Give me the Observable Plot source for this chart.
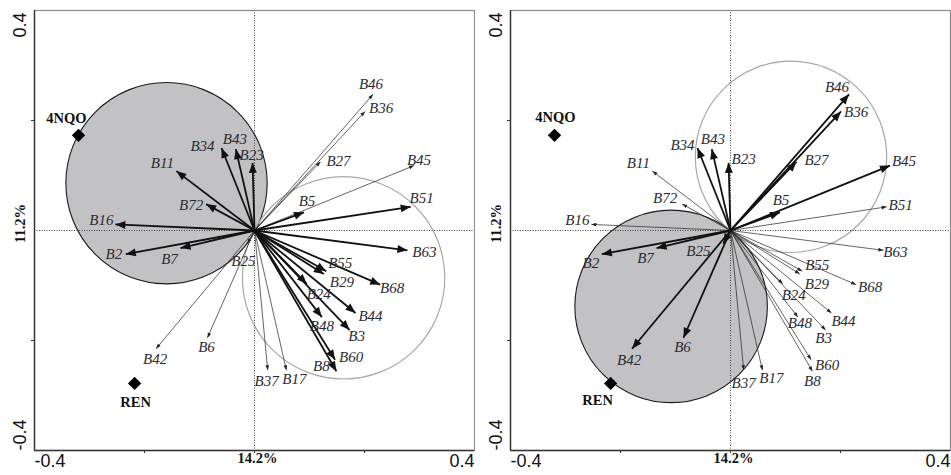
<!DOCTYPE html>
<html>
<head>
<meta charset="utf-8">
<script src="https://cdn.jsdelivr.net/npm/d3@7"></script>
<script src="https://cdn.jsdelivr.net/npm/@observablehq/plot@0.6"></script>
<style>
  html, body { margin: 0; padding: 0; background: #fff; }
  #wrap { display: flex; flex-direction: row; width: 951px; height: 475px; position: relative; }
</style>
</head>
<body>
<div id="wrap"></div>
<script>
// ---------- data ----------
const species = ["B46","B36","B27","B45","B51","B5","B23","B43","B34","B11","B72","B16",
                 "B2","B7","B25","B42","B6","B37","B17","B8","B60","B3","B48","B44","B24","B29","B55","B68","B63"];
const axis1 = [0.2155, 0.201, 0.120, 0.290, 0.284, 0.090, -0.0035, -0.034, -0.060, -0.142, -0.088, -0.253,
               -0.234, -0.1345, -0.013, -0.179, -0.0855, 0.024, 0.058, 0.149, 0.1465, 0.173, 0.1225, 0.1836, 0.095, 0.126, 0.1305, 0.2285, 0.278];
const axis2 = [0.2476, 0.2165, 0.125, 0.118, 0.043, 0.033, 0.123, 0.148, 0.150, 0.108, 0.048, 0.011,
               -0.043, -0.032, -0.024, -0.215, -0.195, -0.254, -0.254, -0.256, -0.235, -0.181, -0.1575, -0.150, -0.097, -0.079, -0.074, -0.0985, -0.036];

const samples = ["4NQO", "REN"];
const sampleX = [-0.320, -0.218];
const sampleY = [0.173, -0.278];

// emphasised (bold) vectors in each panel
const boldLeft  = ["B11","B34","B43","B23","B72","B16","B2","B7","B5","B51","B63","B55","B29","B24","B68","B44","B48","B3","B60","B8"];
const boldRight = ["B46","B36","B27","B45","B5","B23","B43","B34","B2","B7","B42","B6","B25"];

// circles: [filled, open]
const circleXLeft  = [-0.160, 0.162];
const circleYLeft  = [0.086, -0.086];
const circleRLeft  = [0.183, 0.184];
const circleXRight = [-0.108, 0.110];
const circleYRight = [-0.138, 0.134];
const circleRRight = [0.175, 0.174];

const xDomain = [-0.4, 0.4];
const yDomain = [-0.4, 0.4];
const xTickValues = [-0.4, 0, 0.4];
const xTickLabels = ["-0.4", "14.2%", "0.4"];
const yTickValues = [-0.4, 0, 0.4];
const yTickLabels = ["-0.4", "11.2%", "0.4"];
const minorTicksX = [-0.2, 0, 0.2];
const minorTicksY = [-0.2, 0.2];

// ---------- label placement (pixel offsets from arrow tips; styling only) ----------
const labelOffLeft = {
  B46:[-2,-10], B36:[16,-3], B27:[18,-1], B45:[5,-5], B51:[11,-9], B5:[3,-11], B23:[-1,-8], B43:[-1,-10],
  B34:[-19,-2], B11:[-14,-8], B72:[-15,1], B16:[-14,-4], B2:[-12,0], B7:[-11,11], B25:[-4,17],
  B42:[-1,10], B6:[-1,9], B37:[-1,11], B17:[8,9], B8:[-15,-5], B60:[16,-3], B3:[7,6], B48:[0,9],
  B44:[15,3], B24:[12,10], B29:[18,8], B55:[14,-8], B68:[12,4], B63:[17,2]
};
const labelOffRight = {
  B46:[-12,-7], B36:[15,1], B27:[20,-2], B45:[14,-4], B51:[14,-2], B5:[1,-12], B23:[15,-4], B43:[1,-10],
  B34:[-15,-3], B11:[-14,-8], B72:[-17,-6], B16:[-14,-4], B2:[-11,9], B7:[-11,10], B25:[-25,7],
  B42:[-3,11], B6:[-1,9], B37:[0,13], B17:[9,8], B8:[0,10], B60:[16,5], B3:[-2,8], B48:[2,6],
  B44:[12,8], B24:[11,11], B29:[17,10], B55:[15,-6], B68:[14,3], B63:[12,2]
};
const sampleOffLeft  = {"4NQO":[-12,-17], "REN":[1,19]};
const sampleOffRight = {"4NQO":[1,-18], "REN":[-13,17]};

const serif = "'Liberation Serif', 'Times New Roman', Times, serif";
const sans = "'Liberation Sans', Arial, Helvetica, sans-serif";

function panel({width, marginLeft, marginRight, bold, cx, cy, cr, labelOff, sampleOff}) {
  const height = 475, marginTop = 10, marginBottom = 25;
  const k = (width - marginLeft - marginRight) / (xDomain[1] - xDomain[0]);
  const arrows = species.map((s, i) => ({name: s, x: axis1[i], y: axis2[i], bold: bold.includes(s)}));
  const thick = arrows.filter(d => d.bold);
  const thin = arrows.filter(d => !d.bold);
  const angle = d => Math.atan2(d.x, d.y) * 180 / Math.PI;
  const labels = arrows.map(d => {
    const o = labelOff[d.name] || [0, 0];
    return {name: d.name, x: d.x + o[0] / k, y: d.y - o[1] / k};
  });
  const pts = samples.map((s, i) => ({name: s, x: sampleX[i], y: sampleY[i]}));
  const ptLabels = pts.map(d => {
    const o = sampleOff[d.name];
    return {name: d.name, x: d.x + o[0] / k, y: d.y - o[1] / k};
  });
  const circles = cx.map((x, i) => ({x, y: cy[i], r: cr[i], filled: i === 0}));
  const xt = xTickValues.map((v, i) => ({v, label: xTickLabels[i]}));
  const yt = yTickValues.map((v, i) => ({v, label: yTickLabels[i]}));

  const svg = Plot.plot({
    width, height, marginTop, marginRight, marginBottom, marginLeft,
    style: {background: "white", overflow: "visible"},
    x: {domain: xDomain, ticks: minorTicksX, tickSize: 3, tickFormat: () => "", label: null},
    y: {domain: yDomain, ticks: minorTicksY, tickSize: 3, tickFormat: () => "", label: null},
    marks: [
      ...circles.map(c => Plot.dot([c], {
        x: "x", y: "y", r: c.r * k,
        fill: c.filled ? "#c2c2c4" : "none",
        stroke: c.filled ? "#1a1a1a" : "#a8a8a8",
        strokeWidth: c.filled ? 1.1 : 1.2
      })),
      Plot.ruleX([0], {stroke: "#333", strokeWidth: 0.9, strokeDasharray: "1,1.5"}),
      Plot.ruleY([0], {stroke: "#333", strokeWidth: 0.9, strokeDasharray: "1,1.5"}),
      Plot.frame({stroke: "#8a8a8a", strokeWidth: 1.2}),
      Plot.ruleX([xDomain[0]], {stroke: "#333", strokeWidth: 1.4}),
      Plot.ruleY([yDomain[0]], {stroke: "#333", strokeWidth: 1.4}),
      // thin vectors
      Plot.link(thin, {x1: () => 0, y1: () => 0, x2: "x", y2: "y", stroke: "#222", strokeWidth: 0.7}),
      Plot.vector(thin, {x: "x", y: "y", rotate: angle, length: 5, anchor: "end", shape: "spike", r: 1.8, fill: "#222", stroke: "none"}),
      // thick vectors
      Plot.link(thick, {x1: () => 0, y1: () => 0, x2: "x", y2: "y", stroke: "#111", strokeWidth: 1.8}),
      Plot.vector(thick, {x: "x", y: "y", rotate: angle, length: 10, anchor: "end", shape: "spike", r: 4, fill: "#111", stroke: "none"}),
      // vector labels
      Plot.text(labels, {x: "x", y: "y", text: "name", fontFamily: serif, fontStyle: "italic", fontSize: 15, fill: "#2a2a32"}),
      // samples
      Plot.dot(pts, {x: "x", y: "y", symbol: "diamond2", r: 6, fill: "#000", stroke: "none"}),
      Plot.text(ptLabels, {x: "x", y: "y", text: "name", fontFamily: serif, fontWeight: "bold", fontSize: 14.5, fill: "#111"}),
      // axis end labels
      Plot.text([xt[0]], {x: "v", text: "label", frameAnchor: "bottom", dy: 16, textAnchor: "start", fontFamily: sans, fontSize: 18, fill: "#111"}),
      Plot.text([xt[2]], {x: "v", text: "label", frameAnchor: "bottom", dy: 16, textAnchor: "end", fontFamily: sans, fontSize: 18, fill: "#111"}),
      Plot.text([xt[1]], {x: "v", text: "label", frameAnchor: "bottom", dy: 12, dx: 3, textAnchor: "middle", fontFamily: serif, fontWeight: "bold", fontSize: 14.5, fill: "#111"}),
      Plot.text([yt[2]], {y: "v", text: "label", frameAnchor: "left", dx: -14, dy: 2, rotate: -90, textAnchor: "end", fontFamily: sans, fontSize: 18, fill: "#111"}),
      Plot.text([yt[0]], {y: "v", text: "label", frameAnchor: "left", dx: -14, rotate: -90, textAnchor: "start", fontFamily: sans, fontSize: 18, fill: "#111"}),
      Plot.text([yt[1]], {y: "v", text: "label", frameAnchor: "left", dx: -14, dy: -7, rotate: -90, textAnchor: "middle", fontFamily: serif, fontWeight: "bold", fontSize: 14.5, fill: "#111"})
    ]
  });
  d3.select(svg).selectAll("g[aria-label='x-axis tick'] path, g[aria-label='y-axis tick'] path").attr("stroke", "#333");
  return svg;
}

const wrap = document.getElementById("wrap");
wrap.appendChild(panel({width: 475, marginLeft: 34, marginRight: 1, bold: boldLeft,
  cx: circleXLeft, cy: circleYLeft, cr: circleRLeft, labelOff: labelOffLeft, sampleOff: sampleOffLeft}));
wrap.appendChild(panel({width: 476, marginLeft: 35, marginRight: 1, bold: boldRight,
  cx: circleXRight, cy: circleYRight, cr: circleRRight, labelOff: labelOffRight, sampleOff: sampleOffRight}));
</script>
</body>
</html>
